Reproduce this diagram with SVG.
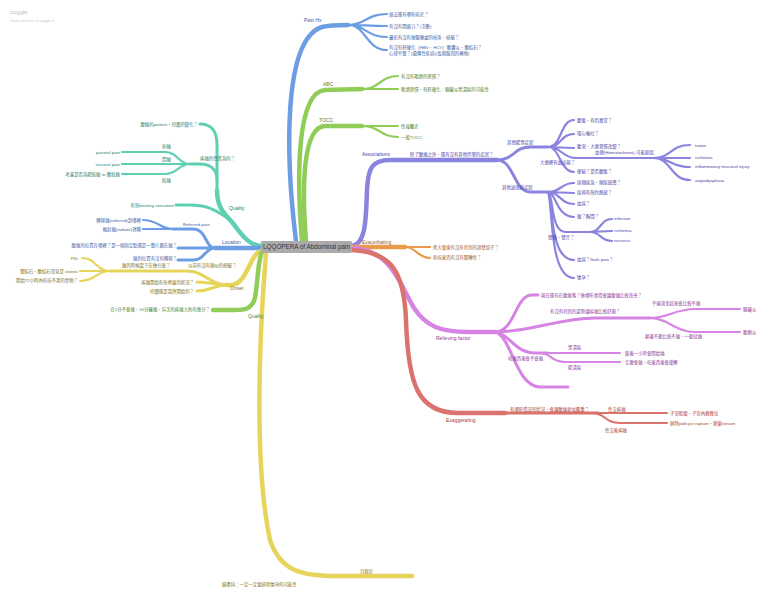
<svg xmlns="http://www.w3.org/2000/svg" width="768" height="597" viewBox="0 0 768 597">
<style>
text{font-family:"Liberation Sans","Noto Sans CJK TC",sans-serif;font-size:4.4px}
.lb{font-size:5px}
.e{text-anchor:end}
path{fill:none;stroke-linecap:round}
.w1{stroke-width:4.5}.w2{stroke-width:3}.w3{stroke-width:2.2}
.cb{stroke:#6d9de3}.tb{fill:#3d62a6}
.cg{stroke:#8fcd58}.tg{fill:#52802c}
.cp{stroke:#8a84de}.tp{fill:#4b44a8}
.co{stroke:#eb9a4c}.to{fill:#a0602a}
.ck{stroke:#d684e3}.tk{fill:#8c3c98}
.cr{stroke:#da726d}.tr{fill:#a83c38}
.ct{stroke:#5fcfb1}.tt{fill:#2e8068}
.cy{stroke:#e6d45b}.ty{fill:#807020}
</style>
<rect width="768" height="597" fill="#ffffff"/>
<g id="logo">
<text x="10" y="14" style="font-size:6px" fill="#bdbdbd">coggle</text>
<text x="10" y="21.5" style="font-size:4px" fill="#cccccc">made for free at coggle.it</text>
</g>
<g id="connectors">
<path class="cb w1" d="M296,241 C286,160 282,40 322,27 C330,25 338,25 348,25"/>
<path class="cb w3" d="M348,25 C366,25 366,14 387,14 M348,25 C366,25 366,26 387,26 M348,25 C366,25 366,37 387,37 M348,25 C366,25 366,50 387,50"/>
<path class="cg w1" d="M302,241 C296,170 298,92 325,90 L362,89"/>
<path class="cg w3" d="M362,89 C380,89 380,76 398,76 M362,89 L398,89"/>
<path class="cg w1" d="M306,241 C302,190 302,127 325,126 L362,126"/>
<path class="cg w3" d="M362,126 L398,126 M362,126 C380,126 380,137 398,137"/>
<path class="cp w1" d="M350,246 C366,246 366,220 367,190 C368,168 372,160 390,160 L497,160"/>
<path class="cp w2" d="M497,160 C514,160 514,147 530,147 L548,147 M497,160 C514,160 514,192 530,192 L548,192"/>
<path class="cp w3" d="M548,147 C562,147 560,120 574,120 M548,147 C562,147 560,134 574,134 M548,147 L574,148 M548,147 C562,147 562,158 576,158 L653,158 M548,147 C560,147 560,172 574,172"/>
<path class="cp w3" d="M653,158 C672,158 670,145 690,145 M653,158 L690,158 M653,158 C672,158 670,167 690,167 M653,158 C672,158 670,180 690,180"/>
<path class="cp w3" d="M548,192 C562,192 560,183 574,183 M548,192 L574,193 M548,192 C560,192 560,204 574,204 M548,192 C556,192 556,217 574,217 M548,192 C554,196 550,232 566,232 L590,232 M548,192 C553,200 549,260 574,260 M548,192 C553,205 549,278 574,278"/>
<path class="cp w3" d="M590,232 C601,232 600,219 612,219 M590,232 L612,231 M590,232 C601,232 600,241 612,241"/>
<path class="co w1" d="M352,247 L405,247"/>
<path class="co w3" d="M405,247 L430,247 M405,247 C417,247 417,258 430,258"/>
<path class="ck w1" d="M352,248 C392,250 400,285 414,308 C426,326 440,332 468,332 L495,332"/>
<path class="ck w2" d="M495,332 C515,332 515,295 532,295 L538,295"/>
<path class="ck w2" d="M495,332 C530,332 560,318 595,318 L650,318"/>
<path class="ck w3" d="M650,318 C668,318 675,309 695,309 L740,309 M650,318 C668,318 675,332 695,332 L740,332"/>
<path class="ck w2" d="M495,332 C510,334 515,353 535,353 L548,353"/>
<path class="ck w3" d="M548,353 L620,353 M540,353 C552,353 550,362 565,362 L620,362"/>
<path class="ck w2" d="M495,332 C512,336 515,386 540,387 L568,387"/>
<path class="cr w1" d="M352,250 C392,252 404,272 406,320 C408,385 418,413 458,413 L505,413"/>
<path class="cr w2" d="M505,413 L598,413"/>
<path class="cr w3" d="M598,413 L667,413 M592,413 C606,413 604,423 620,423 L667,423"/>
<path class="ct w1" d="M262,246 C248,246 240,232 232,222 C222,212 217,205 217,190"/>
<path class="ct w2" d="M217,195 L217,145 C217,131 212,124 200,124"/>
<path class="ct w2" d="M217,180 C217,169 210,164 200,164 L190,164"/>
<path class="ct w3" d="M190,164 C178,164 178,152 165,152 L122,152 M190,164 L122,164 M190,164 C178,164 178,174 165,174 L122,174"/>
<path class="ct w2" d="M226,217 C212,208 205,205 190,205 L176,205"/>
<path class="cb w1" d="M262,248 L215,248"/>
<path class="cb w2" d="M215,248 C205,248 207,229 193,229 L173,229 M215,248 L178,248 M215,248 C205,248 205,260 193,260 L178,260"/>
<path class="cb w3" d="M173,229 C160,229 158,220 143,220 M173,229 L143,229"/>
<path class="cy w1" d="M262,251 C250,252 248,283 232,285 L226,285"/>
<path class="cy w2" d="M226,285 C210,285 205,271 187,271 L110,271 M226,285 C214,285 212,282 197,282 M226,285 C214,285 212,291 197,291"/>
<path class="cy w3" d="M110,271 C96,271 96,258 82,258 M110,271 L80,271 M110,271 C96,271 96,281 80,281"/>
<path class="cg w1" d="M262,252 C257,262 258,290 254,301 C250,309 245,310 235,310 L213,310"/>
<path class="cy w1" d="M266,253 C258,350 255,470 270,540 C280,570 300,576 335,576 L412,576"/>
</g>
<g id="center">
<rect x="261" y="241" width="91" height="12" rx="1.5" fill="#ababab"/>
<text x="306.5" y="249.4" style="font-size:6.3px" fill="#333333" text-anchor="middle">LQQOPERA of Abdominal pain</text>
</g>
<g id="n-pasthx" class="tb">
<text class="lb" x="304" y="22">Past Hx</text>
<text x="389" y="15.5">過去還有哪些病史？</text>
<text x="389" y="27.5">有沒有開過刀？(次數)</text>
<text x="389" y="38.5">最近有沒有做醫療處的檢查、檢驗？</text>
<text x="389" y="49">有沒有肝硬化（HBV、HCV）膽囊炎、膽結石？</text>
<text x="389" y="55">心律不整？(遺傳性疾病)(長期服用的藥物)</text>
</g>
<g id="n-abc" class="tg">
<text class="lb" x="323" y="86">ABC</text>
<text x="401" y="77.5">有沒有喝酒的習慣？</text>
<text x="401" y="90.5">喝酒習慣，有肝硬化、胰臟炎胃潰瘍的可能性</text>
</g>
<g id="n-tocc" class="tg">
<text class="lb" x="319" y="122">TOCC</text>
<text x="401" y="127.5">性接觸史</text>
<text x="401" y="138.5">一般TOCC</text>
</g>
<g id="n-assoc" class="tp">
<text class="lb" x="362" y="156">Associations</text>
<text x="410" y="156">除了腹痛之外，還有沒有其他伴隨的症狀？</text>
<text x="507" y="143.5">其他腸胃症狀</text>
<text x="502" y="189">其他泌尿道症狀</text>
<text x="577" y="121.5">腹脹、有色異常？</text>
<text x="577" y="134.5">噁心嘔吐？</text>
<text x="577" y="148">腹瀉、大便習慣改變？</text>
<text x="595" y="154">血便(Hematochezia) 可能原因</text>
<text x="540" y="164">大便裡有血出現？</text>
<text x="577" y="172.5">便秘？是否腹脹？</text>
<text x="695" y="147">tumor</text>
<text x="695" y="159">ischemia</text>
<text x="695" y="168">inflammatory mucosal injury</text>
<text x="695" y="182">angiodysplasia</text>
<text x="577" y="183.5">尿頻尿急、頻尿感覺？</text>
<text x="577" y="193.5">尿道有無灼熱感？</text>
<text x="577" y="204.5">血尿？</text>
<text x="577" y="217.5">痛？胸悶？</text>
<text x="548" y="239">發燒、發冷？</text>
<text x="614" y="220">infection</text>
<text x="614" y="232">ischemia</text>
<text x="614" y="242">necrosis</text>
<text x="577" y="261">血尿？flank pain？</text>
<text x="577" y="279">懷孕？</text>
</g>
<g id="n-exacerbating" class="to">
<text class="lb" x="362" y="243.5">Exacerbating</text>
<text x="433" y="248.5">進大餐後有沒有特別的誘發因子？</text>
<text x="433" y="259">和吃東西有沒有關聯性？</text>
</g>
<g id="n-relieving" class="tk">
<text class="lb" x="436" y="340">Relieving factor</text>
<text x="541" y="296.5">現在還有在腹痛嗎？做哪些事情會讓腹痛比較改善？</text>
<text x="550" y="313">有沒有特別的姿勢讓疼痛比較舒服？</text>
<text x="652" y="304.5">平躺或坐起來會比較不痛</text>
<text x="743" y="311">胰臟炎</text>
<text x="645" y="338">躺著不動比較不痛、一動就痛</text>
<text x="743" y="333.5">腹膜炎</text>
<text x="508" y="360">吃東西後會不會痛</text>
<text x="568" y="349">胃潰瘍</text>
<text x="625" y="355">飯後一小時會開始痛</text>
<text x="568" y="369">腸潰瘍</text>
<text x="625" y="364">空腹會痛，吃東西後會緩解</text>
</g>
<g id="n-exaggerating" class="tr">
<text class="lb" x="446" y="422">Exaggerating</text>
<text x="510" y="411">有哪些情況的狀況，會讓腹痛更加嚴重？</text>
<text x="608" y="411">性交疼痛</text>
<text x="605" y="432">性交後疼痛</text>
<text x="670" y="415">子宮肌瘤、子宮內膜異位</text>
<text x="670" y="425">屏除pid/cyst rupture、卵巢torsion</text>
</g>
<g id="n-quality" class="tt">
<text class="lb" x="229" y="210">Quality</text>
<text class="e" x="198" y="126">腹痛的pattern，持續的變化？</text>
<text x="200" y="160">疼痛的性質為何？</text>
<text x="162" y="148">刺痛</text>
<text x="162" y="160.5">悶痛</text>
<text x="162" y="182">絞痛</text>
<text class="e" x="120" y="153.5">parietal pain</text>
<text class="e" x="120" y="165.5">visceral pain</text>
<text class="e" x="120" y="175.5">考慮是否為腸絞痛 or 膽絞痛</text>
<text class="e" x="174" y="206.5">有無burning sensation</text>
</g>
<g id="n-location" class="tb">
<text class="lb" x="222" y="243.5">Location</text>
<text x="183" y="226">Referred pain</text>
<text class="e" x="141" y="221.5">轉移痛(referred)到哪裡</text>
<text class="e" x="141" y="230.5">輻射痛(radiate)對稱</text>
<text class="e" x="177" y="247">腹痛的位置在哪裡？是一個固定點還是一整片都在痛？</text>
<text class="e" x="177" y="260">痛的位置有沒有轉移？</text>
</g>
<g id="n-onset" class="ty">
<text class="lb" x="230" y="290">Onset</text>
<text x="188" y="267">以前有沒有類似的經驗？</text>
<text x="122" y="267">痛的時候當下在做什麼？</text>
<text class="e" x="78" y="259.5">PID</text>
<text class="e" x="78" y="272.5">腎結石、膽結石常見是 stones</text>
<text class="e" x="78" y="282">開始72小時內有吃不潔的食物？</text>
<text class="e" x="194" y="284">疼痛開始有無進展的狀況？</text>
<text class="e" x="194" y="293">持續還是突然開始的？</text>
</g>
<g id="n-quality2" class="tg">
<text class="lb" x="248" y="318">Quality</text>
<text class="e" x="210" y="311">在1分不會痛、10分最痛，這次的疼痛大約有幾分？</text>
</g>
<g id="n-menses" class="ty">
<text x="360" y="573">月經史</text>
<text x="222" y="586">婦產科：一定一定要排除懷孕的可能性</text>
</g>
</svg>
